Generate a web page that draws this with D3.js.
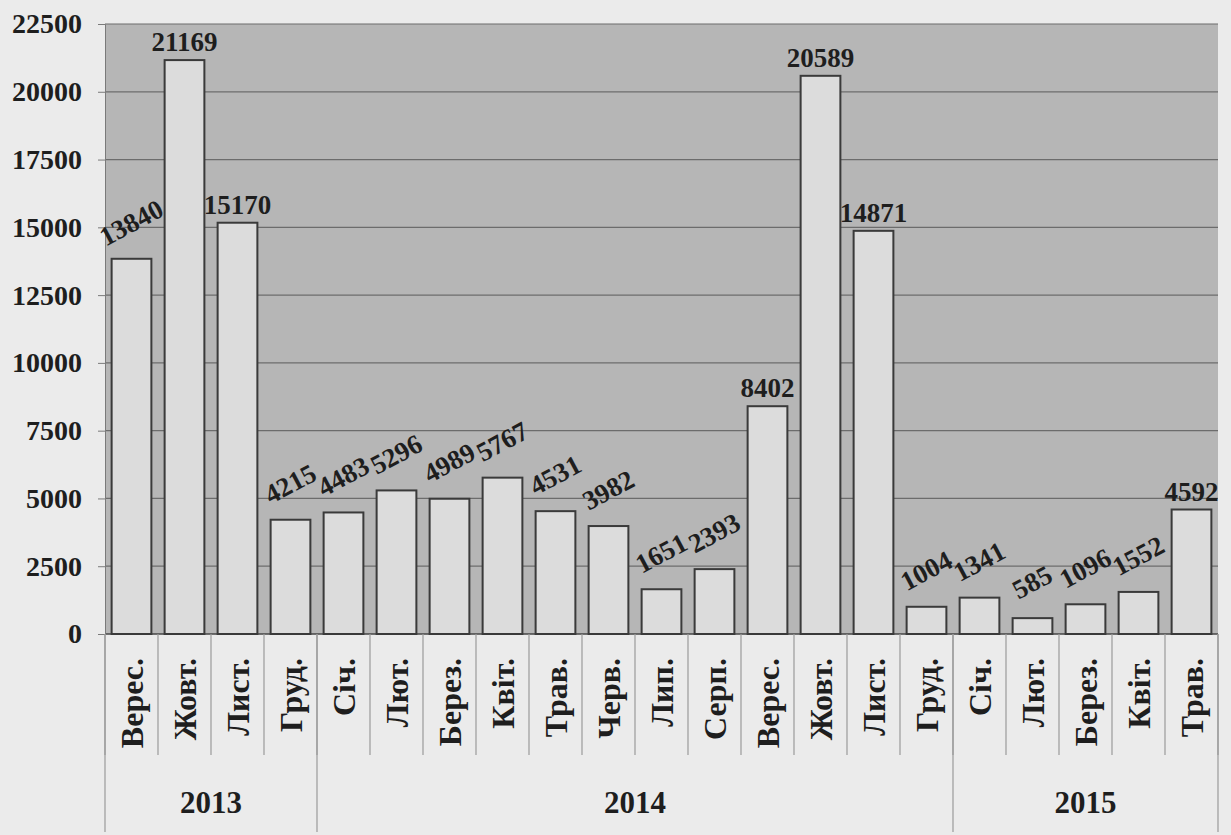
<!DOCTYPE html>
<html>
<head>
<meta charset="utf-8">
<script src="https://cdn.jsdelivr.net/npm/d3@7"></script>
<style>
  body { margin: 0; background: #ebebeb; }
</style>
</head>
<body>
<div id="chart"></div>
<script>
// Month labels (Ukrainian abbreviations) and counts, Sep 2013 - May 2015
const months = ['Верес.', 'Жовт.', 'Лист.', 'Груд.',
  'Січ.', 'Лют.', 'Берез.', 'Квіт.', 'Трав.', 'Черв.', 'Лип.', 'Серп.', 'Верес.', 'Жовт.', 'Лист.', 'Груд.',
  'Січ.', 'Лют.', 'Берез.', 'Квіт.', 'Трав.'];
const values = [13840, 21169, 15170, 4215,
  4483, 5296, 4989, 5767, 4531, 3982, 1651, 2393, 8402, 20589, 14871, 1004,
  1341, 585, 1096, 1552, 4592];
const years = ['2013', '2014', '2015'];
const monthsPerYear = [4, 12, 5];
const yTicks = [0, 2500, 5000, 7500, 10000, 12500, 15000, 17500, 20000, 22500];

// labels that were printed flat (the rest are tilted)
const flatLabels = new Set([1, 2, 12, 13, 14, 20]);

const FONT = 'Liberation Serif';
const INK = '#1e1e1e';

const width = 1231, height = 835;
const margin = { left: 105, right: 13, top: 24, bottom: 201 };
const plotBottom = height - margin.bottom;

const svg = d3.select('#chart').append('svg')
  .attr('width', width)
  .attr('height', height);

const x = d3.scaleBand()
  .domain(d3.range(values.length))
  .range([margin.left, width - margin.right])
  .paddingInner(0.25)
  .paddingOuter(0.125);

const y = d3.scaleLinear()
  .domain([0, 22500])
  .range([plotBottom, margin.top]);

const step = x.step();
const left = margin.left, right = width - margin.right;

// every label gets the same serif bold look
function styleText(sel, size) {
  sel.attr('font-family', FONT)
    .attr('font-weight', 'bold')
    .attr('font-size', size)
    .attr('fill', INK)
    .style('font-family', FONT);
}

// plot background
svg.append('rect')
  .attr('x', left).attr('y', margin.top)
  .attr('width', right - left).attr('height', plotBottom - margin.top)
  .attr('fill', '#b6b6b6');

// gridlines
svg.append('g')
  .selectAll('line')
  .data(yTicks)
  .join('line')
  .attr('x1', left).attr('x2', right)
  .attr('y1', d => y(d)).attr('y2', d => y(d))
  .attr('stroke', d => d === 0 ? '#444' : '#6c6c6c')
  .attr('stroke-width', d => d === 0 ? 1.5 : 1.2);

// y axis
const yAxis = svg.append('g')
  .attr('transform', `translate(${left},0)`)
  .call(d3.axisLeft(y).tickValues(yTicks).tickSize(7).tickPadding(16).tickFormat(d3.format('d')))
  .attr('font-family', FONT);
yAxis.select('.domain').attr('stroke', '#7a7a7a');
yAxis.selectAll('.tick line').attr('stroke', '#7a7a7a');
yAxis.selectAll('.tick text').call(styleText, 28);

// bars
svg.append('g')
  .selectAll('rect')
  .data(values)
  .join('rect')
  .attr('x', (d, i) => x(i))
  .attr('y', d => y(d))
  .attr('width', x.bandwidth())
  .attr('height', d => plotBottom - y(d))
  .attr('fill', '#dcdcdc')
  .attr('stroke', '#3a3a3a')
  .attr('stroke-width', 2);

// value labels
svg.append('g')
  .selectAll('text')
  .data(values)
  .join('text')
  .call(styleText, 27)
  .attr('text-anchor', 'middle')
  .attr('transform', (d, i) => {
    const cx = x(i) + x.bandwidth() / 2;
    return flatLabels.has(i)
      ? `translate(${cx},${y(d) - 9})`
      : `translate(${cx + 4},${y(d) - 28}) rotate(-28)`;
  })
  .text(d => d);

// category axis: separators between months
const sepColor = '#9a9a9a';
svg.append('g')
  .selectAll('line')
  .data(d3.range(values.length + 1))
  .join('line')
  .attr('x1', i => left + i * step).attr('x2', i => left + i * step)
  .attr('y1', plotBottom).attr('y2', 755)
  .attr('stroke', sepColor)
  .attr('stroke-width', 1.2);

// month labels
svg.append('g')
  .selectAll('text')
  .data(months)
  .join('text')
  .call(styleText, 32)
  .attr('text-anchor', 'end')
  .attr('dominant-baseline', 'central')
  .attr('transform', (d, i) => `translate(${x(i) + x.bandwidth() / 2},658) rotate(-90)`)
  .text(d => d);

// year groups
const yearStart = d3.cumsum([0, ...monthsPerYear]);
svg.append('g')
  .selectAll('line')
  .data(yearStart)
  .join('line')
  .attr('x1', k => left + k * step).attr('x2', k => left + k * step)
  .attr('y1', plotBottom).attr('y2', 832)
  .attr('stroke', sepColor)
  .attr('stroke-width', 1.2);

svg.append('g')
  .selectAll('text')
  .data(years)
  .join('text')
  .call(styleText, 31)
  .attr('text-anchor', 'middle')
  .attr('x', (d, k) => left + (yearStart[k] + monthsPerYear[k] / 2) * step)
  .attr('y', 813)
  .text(d => d);
</script>
</body>
</html>
